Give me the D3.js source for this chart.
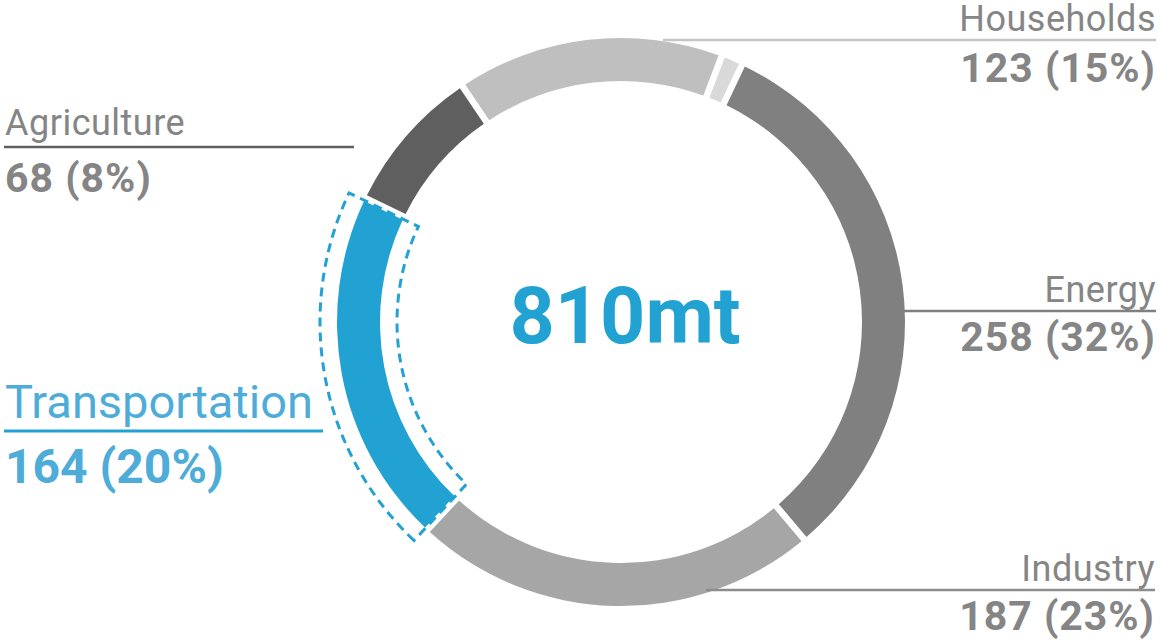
<!DOCTYPE html>
<html>
<head>
<meta charset="utf-8">
<script src="https://cdn.jsdelivr.net/npm/d3@7"></script>
<style>
  html, body { margin: 0; padding: 0; background: #ffffff; }
  svg { display: block; }
</style>
</head>
<body>
<svg id="chart" width="1161" height="640"></svg>
<script>
// ---- data ----
const categories = ["Energy", "Industry", "Transportation", "Agriculture", "Households", "Other"];
const values = [258, 187, 164, 68, 123, 10];
const percents = [32, 23, 20, 8, 15, 1];
const totalLabel = "810mt";
const highlighted = "Transportation";

// ---- styling / layout ----
const colors = {
  Energy: "#808080", Industry: "#a6a6a6", Transportation: "#22a1d3",
  Agriculture: "#5f5f5f", Households: "#bfbfbf", Other: "#d9d9d9"
};
const textGray = "#858585";
const textBlue = "#4eacd8";
const FONT = "Roboto, Arial, 'Liberation Sans', sans-serif";
const cx = 621, cy = 322;
const rInner = 241, rOuter = 284;
const startDeg = 25.2;
const padR = 300, padPx = 6.5;

// label layout: side, label baseline y, line y, value baseline y, line x range
const labelLayout = {
  Households:     { side: "right", ty: 31,  ly: 40,  vy: 82,  x1: 663, x2: 1156 },
  Energy:         { side: "right", ty: 302, ly: 311, vy: 351, x1: 902, x2: 1156 },
  Industry:       { side: "right", ty: 581, ly: 590, vy: 630, x1: 706, x2: 1155 },
  Agriculture:    { side: "left",  ty: 135, ly: 147, vy: 192, x1: 4,   x2: 354 },
  Transportation: { side: "left",  ty: 418, ly: 431, vy: 483, x1: 4,   x2: 323 }
};

const svg = d3.select("#chart");
const g = svg.append("g").attr("transform", `translate(${cx},${cy})`);

const pie = d3.pie().sort(null).value(d => d.value)
  .startAngle(startDeg * Math.PI / 180)
  .endAngle(startDeg * Math.PI / 180 + 2 * Math.PI);

const data = categories.map((c, i) => ({ name: c, value: values[i], pct: percents[i] }));
const arcs = pie(data);

const arc = d3.arc().innerRadius(rInner).outerRadius(rOuter)
  .padRadius(padR).padAngle(padPx / padR);

g.selectAll("path.seg").data(arcs).enter().append("path")
  .attr("class", "seg")
  .attr("d", arc)
  .attr("fill", d => colors[d.data.name]);

// dashed highlight outline (edges aligned with the segment's own edges)
const hl = arcs.find(d => d.data.name === highlighted);
const outline = d3.arc().innerRadius(224).outerRadius(301)
  .padRadius(padR).padAngle(5 / padR);
g.append("path")
  .attr("d", outline(hl))
  .attr("fill", "none")
  .attr("stroke", colors.Transportation)
  .attr("stroke-width", 3)
  .attr("stroke-dasharray", "9,6")
  .attr("stroke-linejoin", "miter");

// center total
svg.append("text")
  .attr("x", 625).attr("y", 343)
  .attr("text-anchor", "middle")
  .attr("font-family", FONT)
  .attr("font-weight", "bold")
  .attr("font-size", 79)
  .attr("fill", colors.Transportation)
  .text(totalLabel);

// labels
arcs.forEach(d => {
  const L = labelLayout[d.data.name];
  if (!L) return;
  const isHl = d.data.name === highlighted;
  const tcol = isHl ? textBlue : textGray;
  const lcol = isHl ? colors.Transportation : (d.data.name === "Households" ? "#c4c4c4" : (d.data.name === "Industry" ? "#8c8c8c" : colors[d.data.name]));
  const anchor = L.side === "right" ? "end" : "start";
  const tx = L.side === "right" ? L.x2 : 5;
  const fsL = isHl ? 47 : 36;
  const fsV = isHl ? 48 : 41;
  svg.append("line")
    .attr("x1", L.x1).attr("x2", L.x2)
    .attr("y1", L.ly).attr("y2", L.ly)
    .attr("stroke", lcol)
    .attr("stroke-width", isHl ? 3 : 2.6);
  svg.append("text")
    .attr("x", tx).attr("y", L.ty)
    .attr("text-anchor", anchor)
    .attr("font-family", FONT)
    .attr("font-size", fsL)
    .attr("letter-spacing", isHl ? 0 : 0.5)
    .attr("fill", tcol)
    .text(d.data.name);
  svg.append("text")
    .attr("x", tx).attr("y", L.vy)
    .attr("text-anchor", anchor)
    .attr("font-family", FONT)
    .attr("font-size", fsV)
    .attr("font-weight", "bold")
    .attr("letter-spacing", isHl ? 0 : 1)
    .attr("fill", tcol)
    .text(`${d.data.value} (${d.data.pct}%)`);
});
</script>
</body>
</html>
